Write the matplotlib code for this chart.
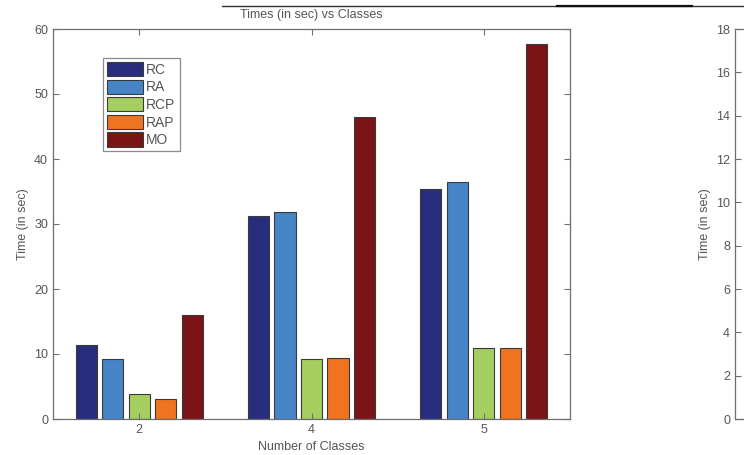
import numpy as np
import matplotlib
matplotlib.use('Agg')
import matplotlib.pyplot as plt
from matplotlib.lines import Line2D

# values
classes = ['2', '4', '5']
series = ['RC', 'RA', 'RCP', 'RAP', 'MO']
rc = [11.4, 31.3, 35.4]
ra = [9.2, 31.9, 36.5]
rcp = [3.8, 9.2, 10.9]
rap = [3.1, 9.4, 10.9]
mo = [16.0, 46.5, 57.7]
colors = ['#292d7e', '#4784c6', '#a4cf60', '#f07420', '#7b1416']

plt.rcParams['font.family'] = ['Liberation Sans', 'DejaVu Sans']
txt = '#555555'
spine = '#6e6e6e'

fig = plt.figure(figsize=(7.44, 4.55), dpi=100)
W, H = 744, 455

def box(l, t, r, b):
    return [l / W, 1 - b / H, (r - l) / W, (b - t) / H]

ax = fig.add_axes(box(53, 29, 570, 419))

values = [rc, ra, rcp, rap, mo]
x = np.arange(1, len(classes) + 1)
n = len(values)
gw = min(0.8, n / (n + 1.5))
step = gw / n
for i, (vals, name, c) in enumerate(zip(values, series, colors)):
    off = -gw / 2 + step * (i + 0.5)
    ax.bar(x + off, vals, width=step * 0.8, color=c, edgecolor='#3a3a3a',
           linewidth=0.8, label=name)

ax.set_xlim(0.5, 3.5)
ax.set_ylim(0, 60)
ax.set_xticks(x)
ax.set_xticklabels(classes)
ax.set_yticks(range(0, 61, 10))
ax.tick_params(direction='in', length=4, width=0.8, colors=spine, labelcolor=txt,
               labelsize=9, top=True, right=True)
for s in ax.spines.values():
    s.set_color(spine)
    s.set_linewidth(0.9)
ax.set_xlabel('Number of Classes', fontsize=9, color=txt, labelpad=4)
ax.set_ylabel('Time (in sec)', fontsize=9, color=txt, labelpad=4)
fig.text(311.5 / W, 1 - 15 / H, 'Times (in sec) vs Classes', fontsize=9,
         color=txt, ha='center', va='center')

leg = ax.legend(loc='upper left', bbox_to_anchor=(0.097, 0.926), fontsize=10,
                frameon=True, fancybox=False, handlelength=2.6, handleheight=1.2,
                borderpad=0.3, labelspacing=0.2, handletextpad=0.2,
                borderaxespad=0)
leg.get_frame().set_edgecolor(spine)
leg.get_frame().set_linewidth(0.9)
for t in leg.get_texts():
    t.set_color(txt)

# line across the top of the page
fig.add_artist(Line2D([222 / W, 1], [1 - 6 / H] * 2, color='#333333', lw=1.0))
fig.add_artist(Line2D([557 / W, 692 / W], [1 - 6 / H] * 2, color='#111111', lw=1.6))

# neighbouring chart, cut off at the right edge
ax2 = fig.add_axes(box(735, 29, 1000, 419))
ax2.set_ylim(0, 18)
ax2.set_yticks(range(0, 19, 2))
ax2.set_xticks([])
ax2.tick_params(direction='in', length=4, width=0.8, colors=spine, labelcolor=txt,
                labelsize=9)
for s in ax2.spines.values():
    s.set_color(spine)
    s.set_linewidth(0.9)
ax2.set_ylabel('Time (in sec)', fontsize=9, color=txt, labelpad=4)

fig.savefig('out.png', dpi=100)
